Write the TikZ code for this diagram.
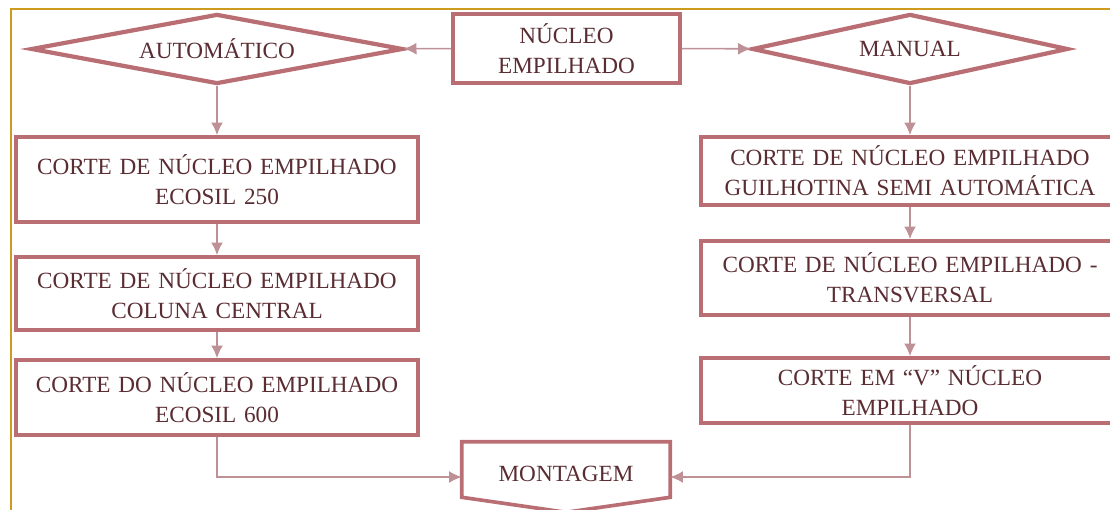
\documentclass[tikz,border=0pt]{standalone}
\usepackage{fontspec}
\setmainfont{Liberation Serif}
\usetikzlibrary{shapes.geometric,arrows.meta,calc}
\definecolor{moldura}{RGB}{205,155,30}
\definecolor{rosa}{RGB}{185,110,115}
\definecolor{rosaclaro}{RGB}{190,145,150}
\definecolor{texto}{RGB}{90,45,50}
\begin{document}
\begin{tikzpicture}[x=0.025cm,y=-0.025cm,>={Latex[length=9pt,width=8.5pt]},
		every node/.style={text=texto,font=\fontsize{16.5}{21.5}\selectfont,align=center,inner sep=0pt},
		losango/.style={diamond,draw=rosa,line width=3pt,fill=white},
		caixa/.style={rectangle,draw=rosa,line width=2.6pt,fill=white},
		seta/.style={draw=rosaclaro,line width=1.1pt}]
		\useasboundingbox (0,0) rectangle (1110,510);
		\clip (0,0) rectangle (1110,510);
		\draw[moldura,line width=1.4pt] (11,515)--(11,9)--(1115,9);
		\path
		(217,49)     node[losango,minimum width=9.3cm,minimum height=1.75cm,aspect=5.3]  (auto) {AUTOMÁTICO}
		(566.5,48.5) node[caixa,minimum width=5.675cm,minimum height=1.725cm]  (nucleo) {NÚCLEO\\EMPILHADO}
		(910,49)     node[losango,minimum width=7.9cm,minimum height=1.75cm,aspect=4.5]  (manual) {MANUAL}
		(217,179.5)  node[caixa,minimum width=10.05cm,minimum height=2.125cm,text width=9.6cm]  (esq1) {CORTE DE NÚCLEO EMPILHADO\\ECOSIL 250}
		(217,293.5)  node[caixa,minimum width=10.05cm,minimum height=1.825cm,text width=9.6cm]  (esq2) {CORTE DE NÚCLEO EMPILHADO\\COLUNA CENTRAL}
		(217,397.5)  node[caixa,minimum width=10.05cm,minimum height=1.875cm,text width=9.6cm]  (esq3) {CORTE DO NÚCLEO EMPILHADO\\ECOSIL 600}
		(910,171)    node[caixa,minimum width=10.45cm,minimum height=1.7cm,text width=10cm]  (dir1) {CORTE DE NÚCLEO EMPILHADO\\GUILHOTINA SEMI AUTOMÁTICA}
		(910,278)    node[caixa,minimum width=10.45cm,minimum height=1.85cm,text width=10cm]  (dir2) {CORTE DE NÚCLEO EMPILHADO -\\TRANSVERSAL}
		(910,390.5)  node[caixa,minimum width=10.45cm,minimum height=1.625cm,text width=10cm]  (dir3) {CORTE EM “V” NÚCLEO\\EMPILHADO}
		(566,477)    node[minimum width=5.2cm,minimum height=1.75cm]  (mont) {\raisebox{0.18cm}{MONTAGEM}}
		;
		\draw[rosa,line width=2.6pt,line join=miter] (mont.north west)--(mont.north east)--($(mont.south east)+(0,-15)$)--(mont.south)--($(mont.south west)+(0,-15)$)--cycle;
		\draw[seta,->] (nucleo)--(auto);
		\draw[seta,->] (nucleo)--(manual);
		\draw[seta,->] (auto)--(esq1);
		\draw[seta,->] (esq1)--(esq2);
		\draw[seta,->] (esq2)--(esq3);
		\draw[seta,->] (manual)--(dir1);
		\draw[seta,->] (dir1)--(dir2);
		\draw[seta,->] (dir2)--(dir3);
		\draw[seta,->] (esq3.south)|-(mont.west);
		\draw[seta,->] (dir3.south)|-(mont.east);
\end{tikzpicture}
\end{document}
